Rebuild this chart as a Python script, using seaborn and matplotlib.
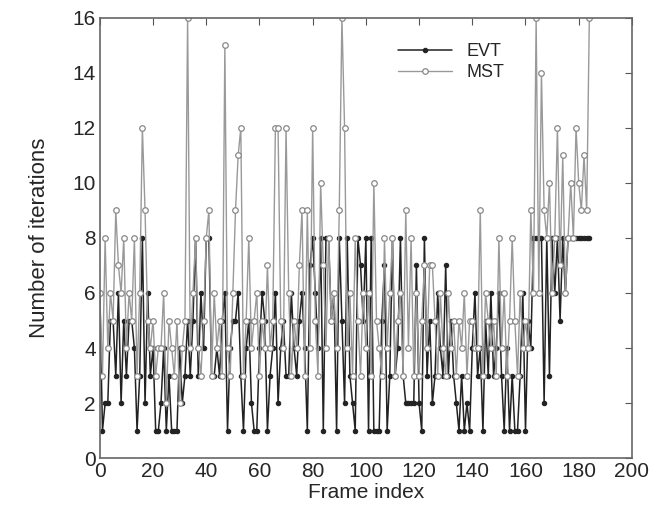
import numpy as np
import pandas as pd
import matplotlib
matplotlib.use("Agg")
import matplotlib.pyplot as plt
import seaborn as sns

# --- Data (frames 0..184) ---
evt = [
    6, 1, 2, 2, 5, 5, 3, 6, 2, 5,
    3, 5, 5, 4, 1, 3, 8, 2, 6, 3,
    4, 1, 1, 2, 4, 1, 3, 1, 1, 1,
    4, 2, 3, 5, 3, 5, 8, 3, 6, 4,
    8, 8, 3, 3, 4, 3, 5, 6, 1, 4,
    5, 5, 6, 3, 1, 4, 5, 2, 1, 1,
    4, 6, 5, 1, 3, 4, 6, 2, 4, 5,
    3, 3, 6, 4, 3, 5, 6, 4, 1, 7,
    8, 6, 4, 8, 1, 8, 8, 5, 6, 1,
    8, 5, 2, 8, 3, 2, 1, 8, 7, 5,
    8, 1, 8, 1, 1, 1, 5, 7, 1, 3,
    8, 3, 4, 8, 3, 2, 2, 2, 2, 7,
    2, 1, 8, 3, 5, 2, 3, 6, 4, 3,
    7, 3, 5, 3, 2, 1, 3, 1, 2, 1,
    4, 6, 3, 4, 1, 5, 3, 6, 3, 4,
    6, 3, 1, 4, 1, 3, 1, 1, 3, 6,
    1, 5, 4, 8, 8, 8, 8, 2, 8, 3,
    8, 6, 8, 5, 8, 6, 8, 8, 8, 8,
    8, 8, 8, 8, 8,
]
mst = [
    6, 3, 8, 4, 6, 5, 9, 7, 6, 8,
    4, 6, 5, 8, 3, 6, 12, 9, 5, 4,
    5, 3, 4, 4, 6, 2, 5, 4, 3, 5,
    2, 4, 5, 16, 4, 6, 8, 4, 3, 5,
    8, 9, 3, 6, 4, 5, 3, 15, 4, 3,
    6, 9, 11, 12, 3, 5, 8, 4, 5, 6,
    3, 5, 4, 7, 4, 5, 12, 12, 5, 4,
    12, 6, 3, 5, 4, 7, 9, 3, 9, 4,
    12, 5, 3, 10, 7, 4, 8, 5, 6, 4,
    9, 16, 12, 4, 6, 3, 8, 5, 3, 6,
    4, 6, 3, 10, 5, 4, 3, 8, 4, 6,
    8, 3, 5, 6, 3, 9, 4, 8, 3, 6,
    3, 5, 7, 4, 7, 7, 5, 3, 6, 4,
    3, 6, 4, 5, 3, 5, 4, 6, 3, 5,
    5, 4, 4, 9, 3, 6, 5, 4, 5, 3,
    8, 4, 6, 3, 5, 8, 5, 3, 6, 4,
    5, 4, 9, 6, 16, 6, 14, 9, 8, 10,
    6, 8, 12, 7, 11, 6, 8, 10, 8, 12,
    10, 9, 11, 9, 16,
]
frames = list(range(len(evt)))

df = pd.DataFrame({"frame": frames, "EVT": evt, "MST": mst})

# --- Plot ---
sns.set_style("white")
plt.rcParams["font.family"] = ["Liberation Sans", "DejaVu Sans"]

fig = plt.figure(figsize=(6.61, 5.09), dpi=100)
ax = fig.add_axes([0.151, 0.100, 0.805, 0.865])

sns.lineplot(data=df, x="frame", y="EVT", ax=ax, color="#222222", lw=1.1,
             marker="o", markersize=3.2, markerfacecolor="#222222",
             markeredgecolor="#222222", label="EVT")
sns.lineplot(data=df, x="frame", y="MST", ax=ax, color="#999999", lw=1.0,
             marker="o", markersize=4, markerfacecolor="white",
             markeredgecolor="#888888", markeredgewidth=0.9, label="MST")

ax.set_xlim(0, 200)
ax.set_ylim(0, 16)
ax.set_xticks(range(0, 201, 20))
ax.set_yticks(range(0, 17, 2))
ax.tick_params(direction="in", length=5, labelsize=15, top=True, right=True,
               color="#555555", pad=3)
for s in ax.spines.values():
    s.set_color("#666666")
    s.set_linewidth(1.2)

ax.set_xlabel("Frame index", fontsize=15, labelpad=1)
ax.set_ylabel("Number of iterations", fontsize=16, labelpad=16)

ax.legend(loc="upper left", bbox_to_anchor=(0.53, 0.98), frameon=False,
          fontsize=13, handlelength=3, labelspacing=0.25)

fig.savefig("out.png", dpi=100)
